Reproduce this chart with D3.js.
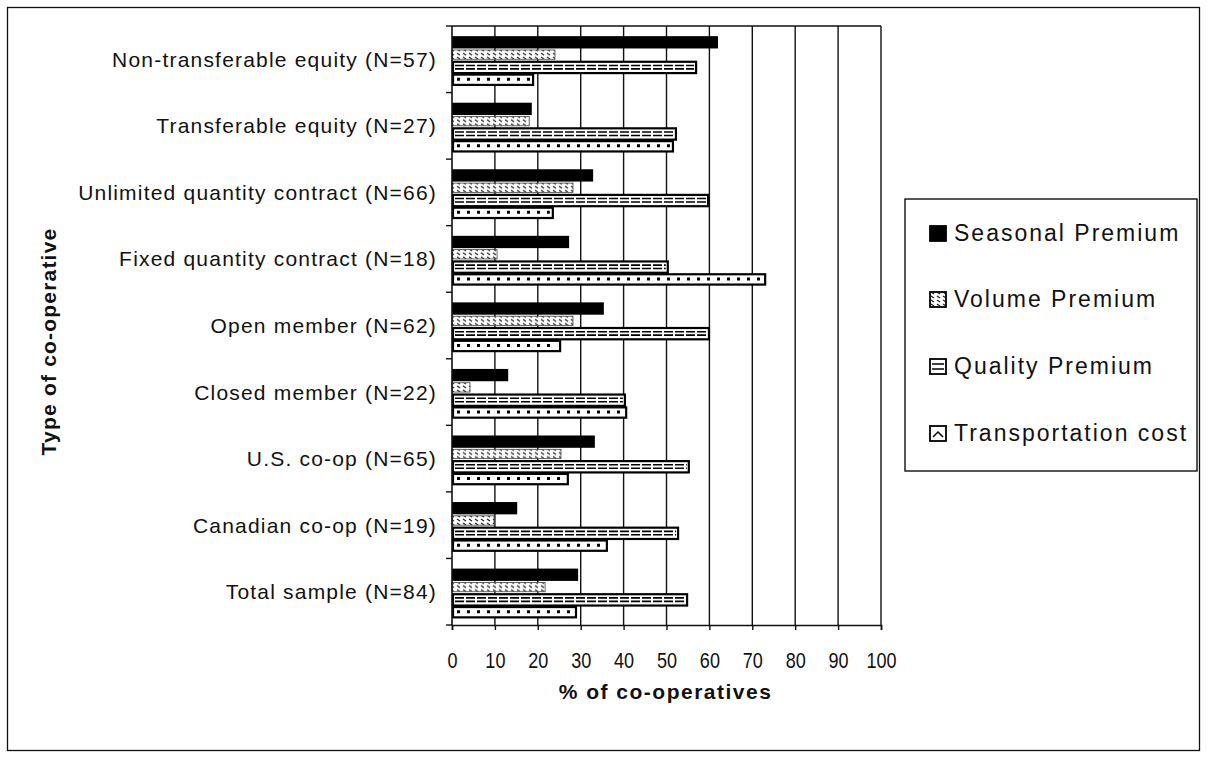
<!DOCTYPE html>
<html>
<head>
<meta charset="utf-8">
<script src="https://cdn.jsdelivr.net/npm/d3@7"></script>
<style>
  html, body { margin: 0; padding: 0; background: #fff; }
  svg { display: block; }
  .cat { font-family: "Liberation Sans", Arial, sans-serif; font-size: 21px; fill: #111; letter-spacing: 1.2px; }
  .tick-lab { font-family: "Liberation Sans", Arial, sans-serif; font-size: 22px; fill: #111; }
  .ttl { font-family: "Liberation Sans", Arial, sans-serif; font-size: 21px; font-weight: bold; fill: #111; }
  .leg { font-family: "Liberation Sans", Arial, sans-serif; font-size: 23px; fill: #111; letter-spacing: 2px; }
</style>
</head>
<body>
<svg id="chart" width="1207" height="760"></svg>
<script>
// Categories, top to bottom
const categories = [
  "Non-transferable equity (N=57)",
  "Transferable equity (N=27)",
  "Unlimited quantity contract (N=66)",
  "Fixed quantity contract (N=18)",
  "Open member (N=62)",
  "Closed member (N=22)",
  "U.S. co-op (N=65)",
  "Canadian co-op (N=19)",
  "Total sample (N=84)"
];
const seriesNames = ["Seasonal Premium", "Volume Premium", "Quality Premium", "Transportation cost"];

// % of co-operatives for each series, in category order
const seasonal  = [62.0, 18.6, 32.9, 27.3, 35.4, 13.1, 33.3, 15.2, 29.4];
const volume    = [24.0, 18.0, 28.2, 10.5, 28.2,  4.2, 25.4,  9.8, 21.7];
const quality   = [56.9, 52.2, 59.7, 50.3, 59.9, 40.3, 55.2, 52.7, 54.8];
const transport = [18.9, 51.5, 23.5, 73.0, 25.2, 40.6, 27.0, 36.1, 28.9];

const xTicks = [0, 10, 20, 30, 40, 50, 60, 70, 80, 90, 100];

const seriesValues = [seasonal, volume, quality, transport];
const rows = categories.map((c, i) => ({
  cat: c,
  vals: seriesNames.map((s, j) => ({ key: s, idx: j, value: seriesValues[j][i] }))
}));

const svg = d3.select("#chart");

// Outer frame
svg.append("rect")
  .attr("x", 7.5).attr("y", 7.5).attr("width", 1192).attr("height", 743)
  .attr("fill", "none").attr("stroke", "#111").attr("stroke-width", 1.3);

const plot = { left: 452, right: 881, top: 26, bottom: 625 };

const x = d3.scaleLinear().domain([0, 100]).range([plot.left, plot.right]);
const y = d3.scaleBand().domain(categories).range([plot.top, plot.bottom])
  .paddingInner(0.26).paddingOuter(0.13);
const yInner = d3.scaleBand().domain(seriesNames).range([0, y.bandwidth()]);

// Pattern for the volume series
const defs = svg.append("defs");
const pv = defs.append("pattern").attr("id", "pat-volume")
  .attr("patternUnits", "userSpaceOnUse").attr("width", 6).attr("height", 4);
pv.append("rect").attr("width", 6).attr("height", 4).attr("fill", "#fff");
pv.append("path").attr("d", "M1,1 L4,3").attr("stroke", "#222").attr("stroke-width", 1.3);

// Vertical gridlines
svg.append("g").selectAll("line").data(xTicks.filter(t => t > 0)).join("line")
  .attr("x1", d => x(d)).attr("x2", d => x(d))
  .attr("y1", plot.top).attr("y2", plot.bottom)
  .attr("stroke", "#111").attr("stroke-width", 1.4);

// Top edge of plot area
svg.append("line")
  .attr("x1", plot.left).attr("x2", plot.right)
  .attr("y1", plot.top).attr("y2", plot.top)
  .attr("stroke", "#111").attr("stroke-width", 1.4);

// Bars
const groups = svg.append("g").selectAll("g").data(rows).join("g")
  .attr("transform", d => `translate(0,${y(d.cat) + 1.5})`);

groups.each(function(row) {
  const g = d3.select(this);
  row.vals.forEach(v => {
    const y0 = yInner(v.key), h = yInner.bandwidth();
    const w = x(v.value) - x(0);
    if (v.idx === 0) {
      g.append("rect").attr("x", x(0)).attr("y", y0).attr("width", w).attr("height", h)
        .attr("fill", "#000");
    } else if (v.idx === 1) {
      g.append("rect").attr("x", x(0)).attr("y", y0 + 1.5).attr("width", w).attr("height", h - 3)
        .attr("fill", "url(#pat-volume)").attr("stroke", "#444").attr("stroke-width", 0.8);
    } else if (v.idx === 2) {
      g.append("rect").attr("x", x(0) + 1).attr("y", y0 + 1).attr("width", w - 1).attr("height", h - 1)
        .attr("fill", "#fff").attr("stroke", "#000").attr("stroke-width", 2.2);
      g.append("line").attr("x1", x(0) + 3).attr("x2", x(v.value) - 2)
        .attr("y1", y0 + h * 0.38).attr("y2", y0 + h * 0.38)
        .attr("stroke", "#000").attr("stroke-width", 1.6).attr("stroke-dasharray", "9,2");
      g.append("line").attr("x1", x(0) + 3).attr("x2", x(v.value) - 2)
        .attr("y1", y0 + h * 0.66).attr("y2", y0 + h * 0.66)
        .attr("stroke", "#000").attr("stroke-width", 1.6).attr("stroke-dasharray", "9,2");
    } else {
      g.append("rect").attr("x", x(0) + 1).attr("y", y0 + 1.5).attr("width", w - 1).attr("height", h - 2)
        .attr("fill", "#fff").attr("stroke", "#000").attr("stroke-width", 2.2);
      g.append("line").attr("x1", x(0) + 5).attr("x2", x(v.value) - 3)
        .attr("y1", y0 + h * 0.5).attr("y2", y0 + h * 0.5)
        .attr("stroke", "#000").attr("stroke-width", 3).attr("stroke-dasharray", "3,7");
    }
  });
});

// X axis
const xAxis = svg.append("g").attr("transform", `translate(0,${plot.bottom})`)
  .call(d3.axisBottom(x).tickValues(xTicks).tickSize(5).tickPadding(22));
xAxis.select(".domain").attr("stroke", "#111").attr("stroke-width", 1.6);
xAxis.selectAll(".tick line").attr("stroke", "#111").attr("stroke-width", 1.4);
xAxis.selectAll(".tick text").attr("class", "tick-lab").attr("font-family", null).attr("font-size", null)
  .attr("transform", "scale(0.82,1)");

// Y axis: line with ticks on category boundaries
svg.append("line").attr("x1", plot.left).attr("x2", plot.left)
  .attr("y1", plot.top).attr("y2", plot.bottom)
  .attr("stroke", "#111").attr("stroke-width", 1.6);
const step = y.step();
svg.append("g").selectAll("line").data(d3.range(categories.length + 1)).join("line")
  .attr("x1", plot.left - 6).attr("x2", plot.left)
  .attr("y1", i => plot.top + i * step).attr("y2", i => plot.top + i * step)
  .attr("stroke", "#111").attr("stroke-width", 1.4);

svg.append("g").selectAll("text").data(categories).join("text")
  .attr("class", "cat")
  .attr("x", plot.left - 15)
  .attr("y", d => y(d) + y.bandwidth() / 2)
  .attr("text-anchor", "end").attr("dominant-baseline", "central")
  .text(d => d);

// Axis titles
svg.append("text").attr("class", "ttl")
  .attr("x", (plot.left + plot.right) / 2 - 1).attr("y", 699)
  .attr("text-anchor", "middle").attr("letter-spacing", "1.5px").text("% of co-operatives");
svg.append("text").attr("class", "ttl")
  .attr("transform", `translate(56,${(plot.top + plot.bottom) / 2 + 16}) rotate(-90)`)
  .attr("text-anchor", "middle").attr("letter-spacing", "1.2px").text("Type of co-operative");

// Legend
const leg = svg.append("g");
leg.append("rect").attr("x", 905).attr("y", 199).attr("width", 292).attr("height", 272)
  .attr("fill", "#fff").attr("stroke", "#111").attr("stroke-width", 1.4);
const legY = [233, 299, 366, 433];
const items = leg.selectAll("g.item").data(seriesNames).join("g").attr("class", "item")
  .attr("transform", (d, i) => `translate(930,${legY[i]})`);
items.append("rect").attr("x", 0).attr("y", -7).attr("width", 16).attr("height", 15)
  .attr("fill", (d, i) => i === 0 ? "#000" : (i === 1 ? "url(#pat-volume)" : "#fff"))
  .attr("stroke", "#000").attr("stroke-width", 1.8);
items.filter((d, i) => i === 2).append("path")
  .attr("d", "M2,-2 H14 M2,3 H14").attr("stroke", "#000").attr("stroke-width", 1.5);
items.filter((d, i) => i === 3).append("path")
  .attr("d", "M3,4 L8,-1 L13,4").attr("fill", "none").attr("stroke", "#000").attr("stroke-width", 1.5);
items.append("text").attr("class", "leg").attr("x", 24).attr("y", 0)
  .attr("dominant-baseline", "central").text(d => d);
</script>
</body>
</html>
